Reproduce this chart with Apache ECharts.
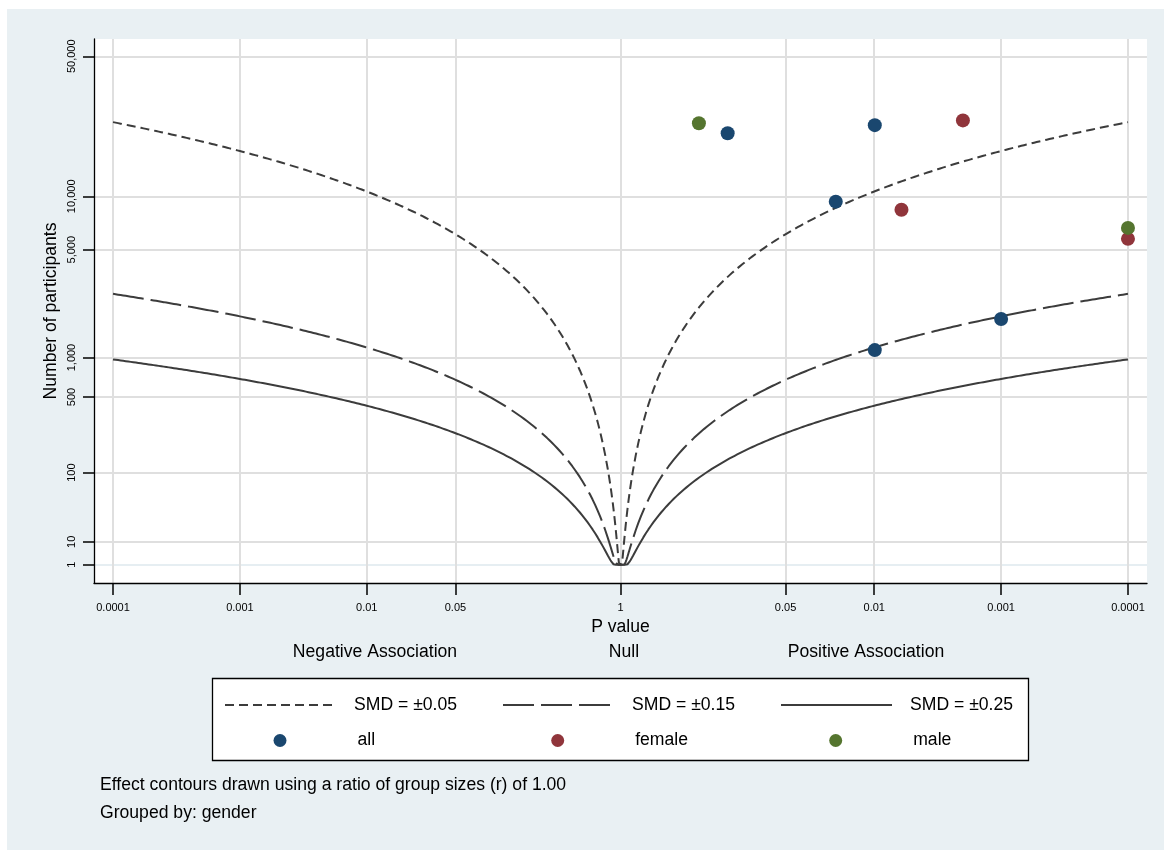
<!DOCTYPE html>
<html><head><meta charset="utf-8">
<script src="https://cdn.jsdelivr.net/npm/echarts@6/dist/echarts.min.js"></script>
<style>html,body{margin:0;padding:0;background:#fff}#c{width:1164px;height:850px}</style>
</head><body><div id="c"></div>
<script>
// ---- tick labels ----
const xTickP    = [0.0001, 0.001, 0.01, 0.05, 1, 0.05, 0.01, 0.001, 0.0001];
const xTickSide = [-1, -1, -1, -1, 0, 1, 1, 1, 1];
const yTickN    = [1, 10, 100, 500, 1000, 5000, 10000, 50000];

// ---- effect contours (SMD levels, ratio of group sizes) ----
const smdLevels = [0.05, 0.15, 0.25];
const smdNames  = ['SMD = ±0.05', 'SMD = ±0.15', 'SMD = ±0.25'];
const groupRatio = 1.00;

// ---- studies (p value, direction of association, participants) ----
const groupNames = ['all', 'female', 'male'];
const allP   = [0.143, 0.0099, 0.0201, 0.0010, 0.0099];
const allSide= [1, 1, 1, 1, 1];
const allN   = [21300, 23400, 9350, 1850, 1130];
const femaleP   = [0.0020, 0.0061, 0.0001];
const femaleSide= [1, 1, 1];
const femaleN   = [24700, 8440, 5780];
const maleP   = [0.241, 0.0001];
const maleSide= [1, 1];
const maleN   = [23900, 6680];

const groupColors = ['#1a476f', '#90353b', '#55752f'];
const FONT = '"Liberation Sans", Arial, sans-serif';
const FS = 17.6;

// axis transforms: x = signed -log10(p), y = (log10 N)^2
const pMin = 0.0001;
function tx(p, side) { return side * -Math.log10(Math.max(p, pMin)); }
function ty(n) { const l = Math.log10(Math.max(n, 1)); return l * l; }

// inverse standard normal (Acklam)
function invNorm(q) {
  const a=[-3.969683028665376e+01,2.209460984245205e+02,-2.759285104469687e+02,1.383577518672690e+02,-3.066479806614716e+01,2.506628277459239e+00];
  const b=[-5.447609879822406e+01,1.615858368580409e+02,-1.556989798598866e+02,6.680131188771972e+01,-1.328068155288572e+01];
  const c=[-7.784894002430293e-03,-3.223964580411365e-01,-2.400758277161838e+00,-2.549732539343734e+00,4.374664141464968e+00,2.938163982698783e+00];
  const d=[7.784695709041462e-03,3.224671290700398e-01,2.445134137142996e+00,3.754408661907416e+00];
  const pl=0.02425, ph=1-pl; let r, s;
  if (q < pl) { s=Math.sqrt(-2*Math.log(q)); return (((((c[0]*s+c[1])*s+c[2])*s+c[3])*s+c[4])*s+c[5])/((((d[0]*s+d[1])*s+d[2])*s+d[3])*s+1); }
  if (q <= ph) { s=q-0.5; r=s*s; return (((((a[0]*r+a[1])*r+a[2])*r+a[3])*r+a[4])*r+a[5])*s/(((((b[0]*r+b[1])*r+b[2])*r+b[3])*r+b[4])*r+1); }
  s=Math.sqrt(-2*Math.log(1-q)); return -(((((c[0]*s+c[1])*s+c[2])*s+c[3])*s+c[4])*s+c[5])/((((d[0]*s+d[1])*s+d[2])*s+d[3])*s+1);
}
// contour: N needed for a given p at a given SMD
function contour(smd) {
  const xs = [];
  for (let x = 0; x < 0.1; x += 0.0025) xs.push(x);
  for (let x = 0.1; x <= 4.0001; x += 0.02) xs.push(Math.min(x, 4));
  const out = [];
  const full = xs.slice().reverse().map(x => -x).concat(xs.slice(1));
  full.forEach(x => {
    const p = Math.pow(10, -Math.abs(x));
    const z = p >= 1 ? 0 : invNorm(1 - p / 2);
    const n = z * z * (1 + groupRatio) * (1 + groupRatio) / (groupRatio * smd * smd);
    out.push([x, ty(n)]);
  });
  return out;
}
function pts(P, S, N) { return P.map((p, i) => [tx(p, S[i]), ty(N[i])]); }

const xTickVals = xTickP.map((p, i) => tx(p, xTickSide[i]));
const yTickVals = yTickN.map(ty);
function nearest(vals, v) { let bi = 0; vals.forEach((t, i) => { if (Math.abs(t - v) < Math.abs(vals[bi] - v)) bi = i; }); return bi; }

const dashes = [[9, 5], [31, 7], 'solid'];
const series = smdLevels.map((s, i) => ({
  name: smdNames[i], type: 'line', data: contour(s), symbol: 'none', symbolSize: 0, showSymbol: false,
  lineStyle: { color: '#3c3c3c', width: 2, type: dashes[i] }, itemStyle: { color: '#3c3c3c' },
  silent: true, z: 2
}));
const groupData = [pts(allP, allSide, allN), pts(femaleP, femaleSide, femaleN), pts(maleP, maleSide, maleN)];
groupNames.forEach((g, i) => series.push({
  name: g, type: 'scatter', data: groupData[i], symbol: 'circle', symbolSize: 14,
  itemStyle: { color: groupColors[i], opacity: 1 }, z: 3
}));

// legend: one component per cell so columns line up
const lineLeft = [224, 502, 780];
const dotLeft  = [273.5, 551.2, 829.2];
const legends = [];
smdNames.forEach((nm, i) => legends.push({
  data: [nm], left: lineLeft[i], top: 696, padding: 0, itemWidth: 111, itemHeight: 14,
  selectedMode: false,
  itemStyle: { color: 'rgba(0,0,0,0)', borderColor: 'rgba(0,0,0,0)', borderWidth: 0 },
  formatter: n => '{g|}{t|' + n + '}',
  textStyle: { fontFamily: FONT, fontSize: FS, color: '#000', rich: { g: { width: 13 }, t: { fontFamily: FONT, fontSize: FS, color: '#000' } } }
}));
groupNames.forEach((nm, i) => legends.push({
  data: [nm], left: dotLeft[i], top: 731.5, padding: 0, itemWidth: 13, itemHeight: 13,
  selectedMode: false,
  formatter: n => '{g|}{t|' + n + '}',
  textStyle: { fontFamily: FONT, fontSize: FS, color: '#000', rich: { g: { width: 66 }, t: { fontFamily: FONT, fontSize: FS, color: '#000' } } }
}));

const gridColors = ['#e6eef2', '#dfdfdf', '#dfdfdf', '#dfdfdf', '#dfdfdf', '#dfdfdf', '#dfdfdf', '#dfdfdf'];
const txt = (s, x, y, align) => ({ type: 'text', z: 5, x: x, y: y, style: { text: s, font: FS + 'px ' + FONT, fill: '#000', align: align, verticalAlign: 'middle' } });

const chart = echarts.init(document.getElementById('c'), null, { renderer: 'canvas' });
chart.setOption({
  animation: false,
  backgroundColor: '#ffffff',
  textStyle: { fontFamily: FONT },
  grid: { left: 94, top: 39, right: 17, bottom: 267, show: true, backgroundColor: '#ffffff', borderWidth: 0 },
  xAxis: {
    type: 'value', min: -4.15, max: 4.15,
    name: 'P value', nameLocation: 'middle', nameGap: 32,
    nameTextStyle: { fontFamily: FONT, fontSize: FS, color: '#000' },
    axisLine: { show: true, onZero: false, lineStyle: { color: '#000', width: 1.3 } },
    axisTick: { show: true, length: 12, customValues: xTickVals, lineStyle: { color: '#000', width: 1.5 } },
    axisLabel: { customValues: xTickVals, margin: 19, fontSize: 11, color: '#000', fontFamily: FONT,
      formatter: v => String(xTickP[nearest(xTickVals, v)]) },
    splitLine: { show: true, lineStyle: { color: '#dfdfdf', width: 2 } }
  },
  yAxis: {
    type: 'value', min: -0.79, max: 22.83,
    name: 'Number of participants', nameLocation: 'middle', nameGap: 34, nameMoveOverlap: false,
    nameTextStyle: { fontFamily: FONT, fontSize: FS, color: '#000' },
    axisLine: { show: true, onZero: false, lineStyle: { color: '#000', width: 1.3 } },
    axisTick: { show: true, length: 11, customValues: yTickVals, lineStyle: { color: '#000', width: 1.5 } },
    axisLabel: { customValues: yTickVals, rotate: 90, margin: 17, fontSize: 11, color: '#000', fontFamily: FONT,
      formatter: v => yTickN[nearest(yTickVals, v)].toLocaleString('en-US') },
    splitLine: { show: true, lineStyle: { color: gridColors, width: 2 } }
  },
  legend: legends,
  graphic: [
    { type: 'rect', z: -10, silent: true, shape: { x: 7, y: 9, width: 1157, height: 841 }, style: { fill: '#e9f0f3' } },
    { type: 'rect', z: 1, silent: true, shape: { x: 212.5, y: 678.5, width: 816, height: 82 }, style: { fill: '#fff', stroke: '#000', lineWidth: 1.3 } },
    txt('Negative Association', 375, 652, 'center'),
    txt('Null', 624, 652, 'center'),
    txt('Positive Association', 866, 652, 'center'),
    txt('Effect contours drawn using a ratio of group sizes (r) of 1.00', 100, 785, 'left'),
    txt('Grouped by: gender', 100, 813, 'left')
  ],
  series: series
});
</script></body></html>
